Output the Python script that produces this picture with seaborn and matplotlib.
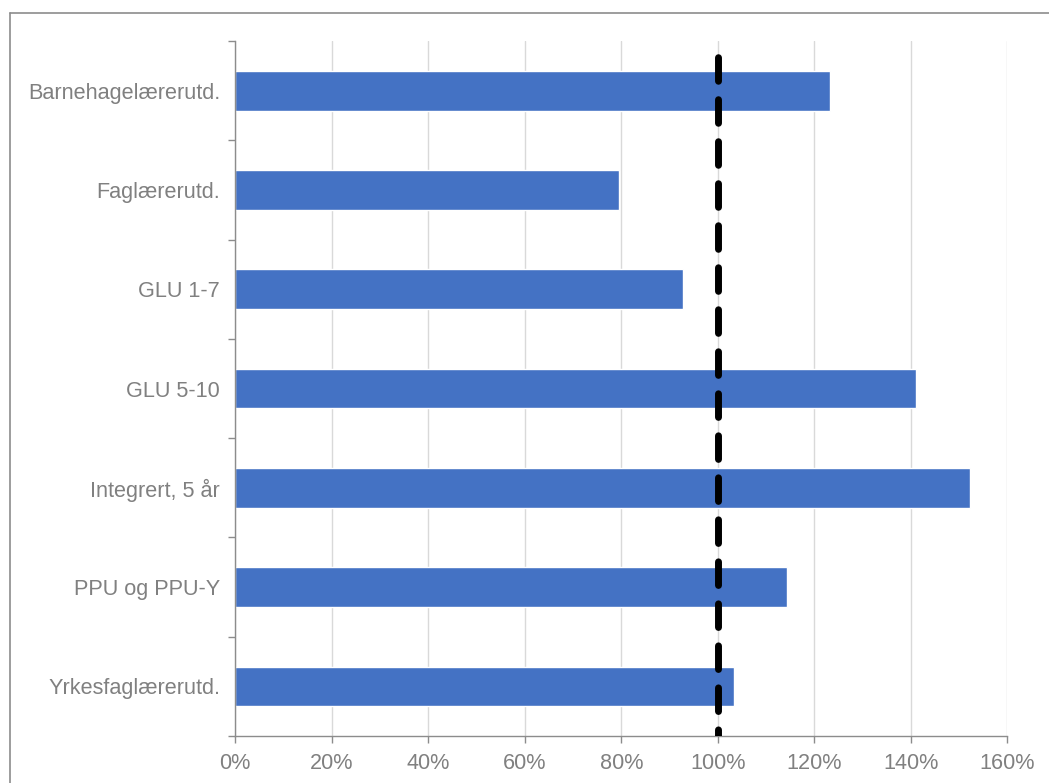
import numpy as np
import pandas as pd
import matplotlib
matplotlib.use('Agg')
import matplotlib.pyplot as plt
import seaborn as sns
from matplotlib.lines import Line2D
from matplotlib.ticker import FuncFormatter, FixedLocator

# Data
categories = ['Barnehagelærerutd.', 'Faglærerutd.', 'GLU 1-7', 'GLU 5-10',
              'Integrert, 5 år', 'PPU og PPU-Y', 'Yrkesfaglærerutd.']
values = [123.3, 79.5, 92.8, 141.1, 152.3, 114.3, 103.4]
x_ticks = [0, 20, 40, 60, 80, 100, 120, 140, 160]
reference = 100

df = pd.DataFrame({'utdanning': categories, 'andel': values})

sns.set_style('white')
plt.rcParams['font.family'] = ['Liberation Sans', 'DejaVu Sans']

fig = plt.figure(figsize=(10.49, 7.83), dpi=100)
ax = fig.add_axes([0.2243, 0.06, 0.9603 - 0.2243, 0.8876])

sns.barplot(data=df, x='andel', y='utdanning', orient='h', color='#4472C4',
            saturation=1, width=0.4, ax=ax)

# dashed reference line at 100%
ax.axvline(reference, color='black', lw=5, linestyle=(2.45, (3.4, 2.65)),
           dash_capstyle='round', zorder=5)

ax.set_xlim(0, 160)
ax.set_ylim(6.5, -0.5)
ax.xaxis.set_major_locator(FixedLocator(x_ticks))
ax.xaxis.set_major_formatter(FuncFormatter(lambda v, p: f'{v:.0f}%'))
ax.grid(axis='x', color='#d9d9d9', lw=1)
ax.set_axisbelow(True)
ax.set_xlabel('')
ax.set_ylabel('')

for s in ['top', 'right']:
    ax.spines[s].set_visible(False)
for s in ['left', 'bottom']:
    ax.spines[s].set_color('#8c8c8c')
    ax.spines[s].set_linewidth(1)

ax.tick_params(axis='x', bottom=True, colors='#8c8c8c', labelcolor='#808080',
               labelsize=15.6, length=5, width=1, direction='out', pad=7.5)
ax.tick_params(axis='y', which='major', left=False, labelcolor='#808080',
               labelsize=15.6, pad=7.5)
ax.set_yticks(np.arange(-0.5, 7, 1), minor=True)
ax.tick_params(axis='y', which='minor', left=True, length=5, width=1,
               color='#8c8c8c', direction='out')

# frame lines around the chart area (left and top visible)
fig.add_artist(Line2D([9.5 / 1049, 9.5 / 1049], [0, 1 - 12.5 / 783],
                      transform=fig.transFigure, color='#8c8c8c', lw=1.2))
fig.add_artist(Line2D([9.5 / 1049, 1], [1 - 12.5 / 783, 1 - 12.5 / 783],
                      transform=fig.transFigure, color='#8c8c8c', lw=1.2))

fig.savefig('out.png', dpi=100, facecolor='white')
